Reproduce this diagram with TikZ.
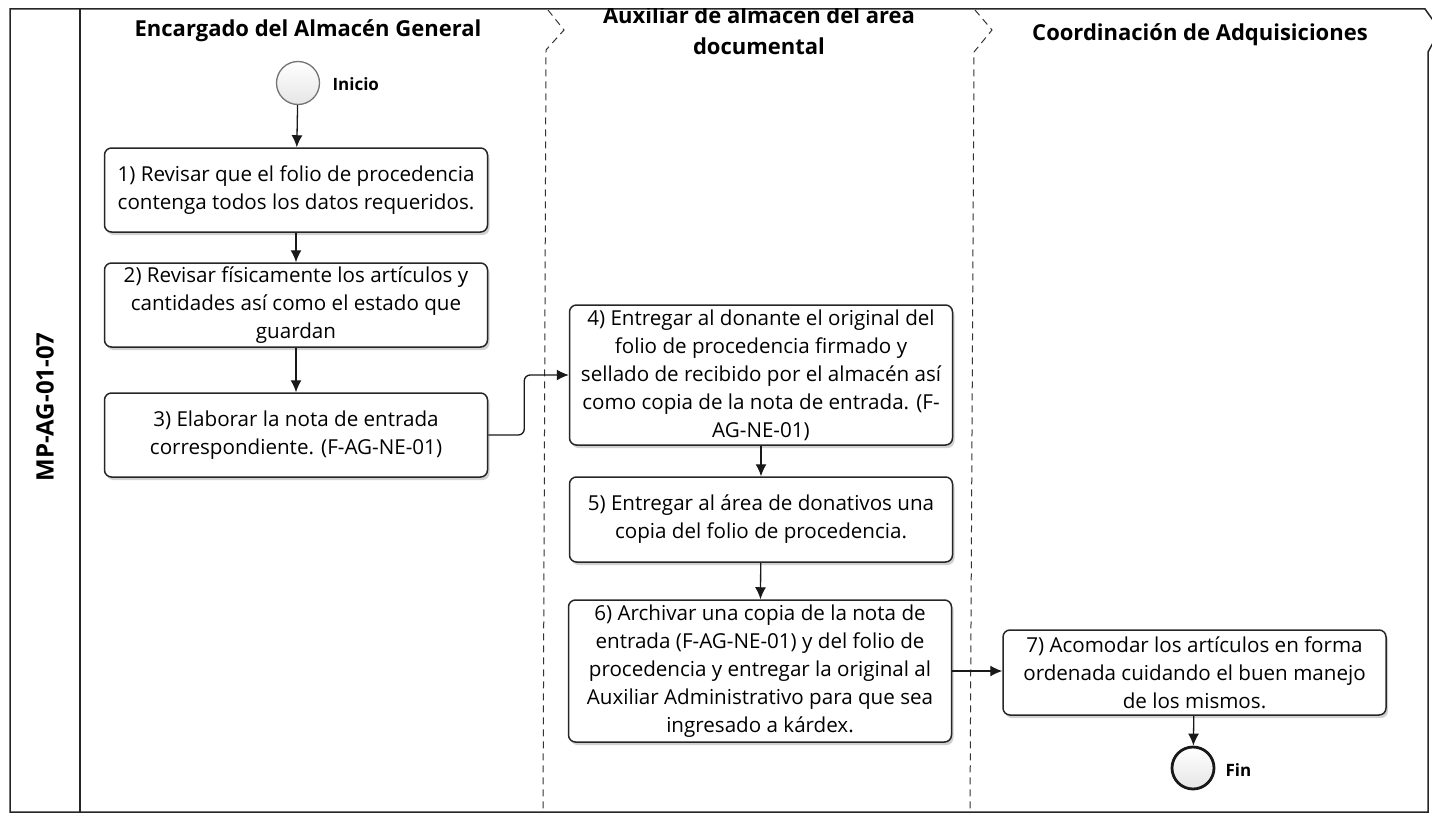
\documentclass[tikz,border=0pt]{standalone}
\usepackage{fontspec}
\setmainfont{Open Sans}
\usetikzlibrary{arrows.meta,shadows}

\begin{document}
\begin{tikzpicture}[x=1pt,y=-1pt,
  task/.style={draw=black!85, line width=1.5pt, rounded corners=7pt, fill=white,
    minimum width=383pt, align=center, inner sep=1pt,
    font=\fontsize{20.6}{28}\selectfont,
    general shadow={fill=black!18, shadow xshift=2pt, shadow yshift=-3pt}},
  flow/.style={-{Latex[length=12pt,width=11pt]}, line width=1.3pt, black!90},
  lanehead/.style={font=\fontsize{22}{31}\selectfont\bfseries, align=center},
  lanesep/.style={dash pattern=on 7pt off 5pt, line width=1pt, black!80},
  frame/.style={line width=1.5pt, black!85},
  eventlabel/.style={font=\fontsize{17}{19}\selectfont\bfseries, anchor=west},
 ]
\useasboundingbox (0,0) rectangle (1432,816);

% pool frame and the column holding the process code
\draw[frame] (10,9) -- (1425,9) -- (1440,30) -- (1428,52) -- (1428,812) -- (10,812) -- cycle;
\draw[frame] (80,9) -- (80,812);
\node[font=\fontsize{24}{26}\selectfont\bfseries, rotate=90] (code) at (45,407) {MP-AG-01-07};

% lane separators with their chevron heads
\draw[lanesep] (548,10) -- (564,30) -- (546,50) -- (543,812);
\draw[lanesep] (975,10) -- (992,30) -- (974,52) -- (970,812);

% lane titles
\node[lanehead] (h1) at (308,31) {Encargado del Almacén General};
\begin{scope}
  \clip (544,9) rectangle (972,120);
  \node[lanehead] (h2) at (759,31) {Auxiliar de almacen del area\\documental};
\end{scope}
\node[lanehead] (h3) at (1200,35) {Coordinación de Adquisiciones};

% events
\node[circle, draw=black!55, line width=1.3pt, minimum size=43pt, inner sep=0pt,
      top color=white, bottom color=black!10] (ini) at (298,83) {};
\node[eventlabel] (inilbl) at (329,84) {Inicio};
\node[circle, draw=black!90, line width=2.8pt, minimum size=42pt, inner sep=0pt,
      top color=white, bottom color=black!10] (fin) at (1193,768) {};
\node[eventlabel] (finlbl) at (1222,770) {Fin};

% tasks
\node[task, minimum height=84pt] (t1) at (296,190)
  {1) Revisar que el folio de procedencia\\contenga todos los datos requeridos.};
\node[task, minimum height=84pt] (t2) at (296,305)
  {2) Revisar físicamente los artículos y\\cantidades así como el estado que\\guardan};
\node[task, minimum height=84pt] (t3) at (296,435)
  {3) Elaborar la nota de entrada\\correspondiente. (F-AG-NE-01)};
\node[task, minimum height=140pt] (t4) at (761,375)
  {4) Entregar al donante el original del\\folio de procedencia firmado y\\sellado de recibido por el almacén así\\como copia de la nota de entrada. (F-\\AG-NE-01)};
\node[task, minimum height=85pt] (t5) at (761,519.5)
  {5) Entregar al área de donativos una\\copia del folio de procedencia.};
\node[task, minimum height=142pt] (t6) at (760,671)
  {6) Archivar una copia de la nota de\\entrada (F-AG-NE-01) y del folio de\\procedencia y entregar la original al\\Auxiliar Administrativo para que sea\\ingresado a kárdex.};
\node[task, minimum height=85pt] (t7) at (1194.5,672.5)
  {7) Acomodar los artículos en forma\\ordenada cuidando el buen manejo\\de los mismos.};

% sequence flow
\draw[flow] (ini) -- (t1);
\draw[flow] (t1) -- (t2);
\draw[flow] (t2) -- (t3);
\draw[flow, rounded corners=6pt] (t3.east) -- ++(36,0) |- (t4.west);
\draw[flow] (t4) -- (t5);
\draw[flow] (t5) -- (t6);
\draw[flow] (t6.east) -- (t6.east -| t7.west);
\draw[flow] (t7) -- (fin);
\end{tikzpicture}
\end{document}
